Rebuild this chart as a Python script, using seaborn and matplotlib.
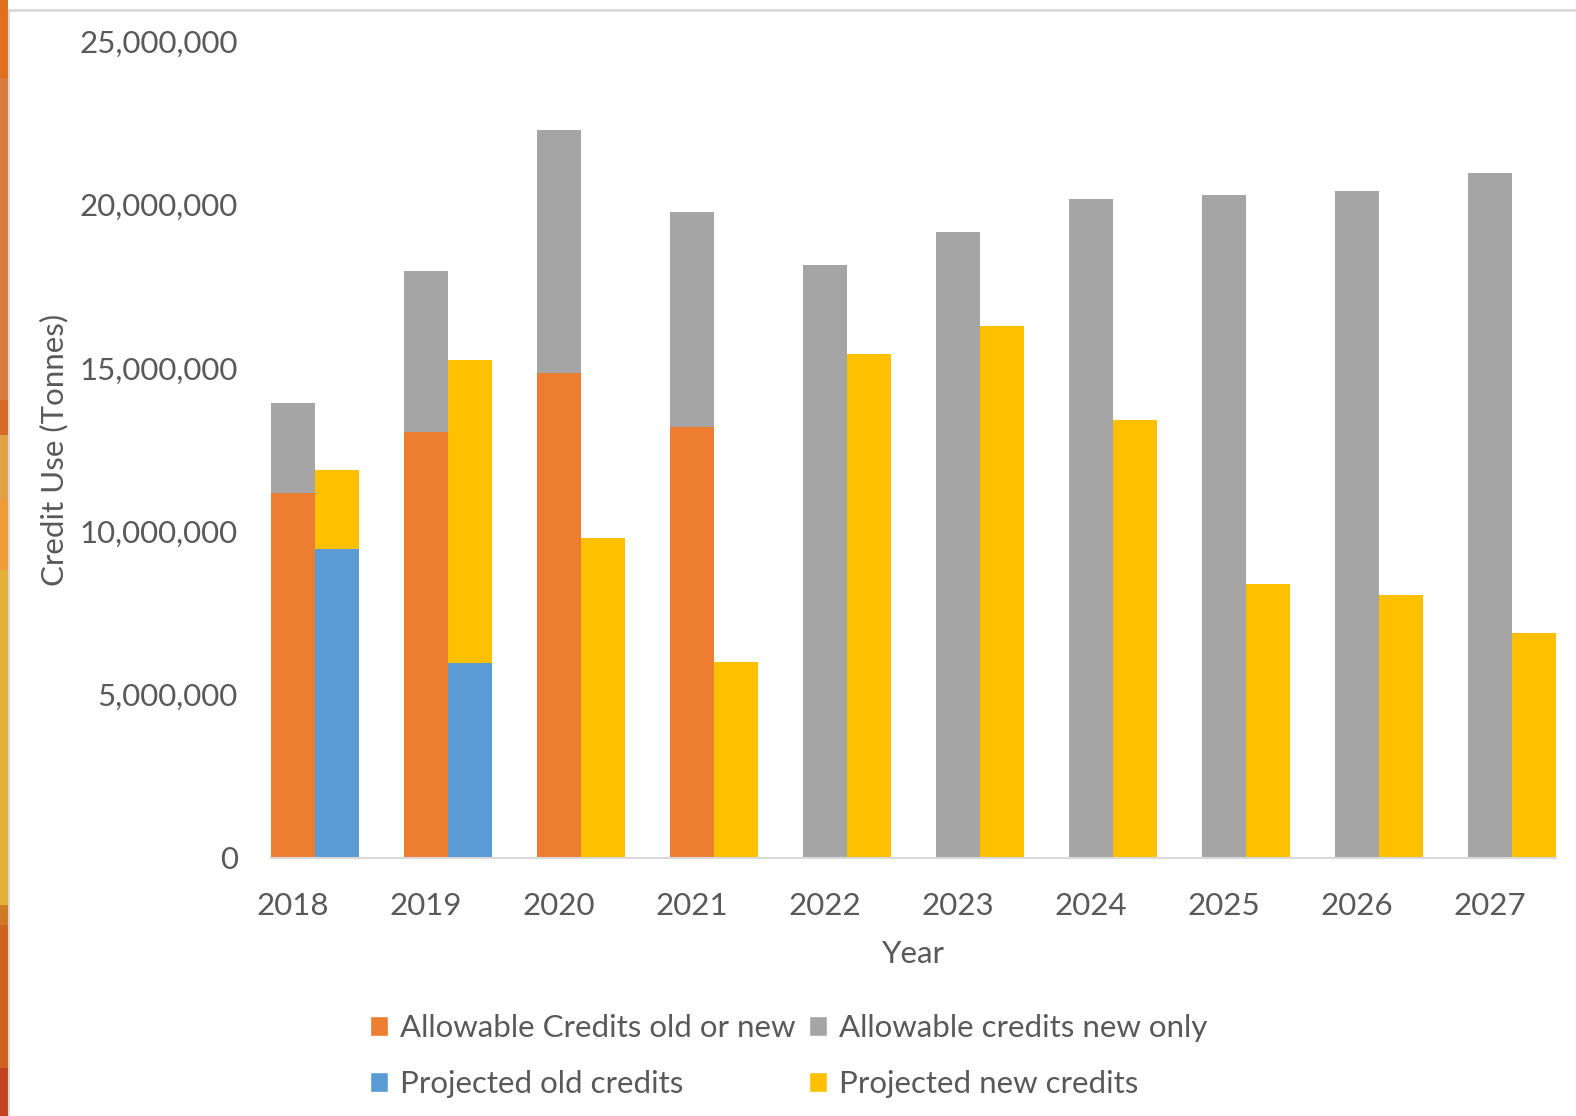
import numpy as np
import pandas as pd
import matplotlib
matplotlib.use("Agg")
import matplotlib.pyplot as plt
from matplotlib.patches import Patch
from matplotlib.lines import Line2D
from matplotlib.colors import to_rgb
from matplotlib.ticker import FuncFormatter
import seaborn as sns

# ---- data (tonnes) ----
years = ["2018", "2019", "2020", "2021", "2022", "2023", "2024", "2025", "2026", "2027"]
allowable_old_or_new = [11_160_000, 13_040_000, 14_860_000, 13_180_000, 0, 0, 0, 0, 0, 0]
allowable_new_only = [2_770_000, 4_920_000, 7_440_000, 6_590_000, 18_140_000,
                      19_160_000, 20_180_000, 20_290_000, 20_410_000, 20_980_000]
projected_old = [9_450_000, 5_970_000, 0, 0, 0, 0, 0, 0, 0, 0]
projected_new = [2_420_000, 9_270_000, 9_790_000, 5_990_000, 15_440_000,
                 16_290_000, 13_400_000, 8_370_000, 8_060_000, 6_870_000]

series_labels = ["Allowable Credits old or new", "Allowable credits new only",
                 "Projected old credits", "Projected new credits"]

ORANGE = "#ED7D31"
GRAY = "#A5A5A5"
BLUE = "#5B9BD5"
YELLOW = "#FFC000"
TEXT = "#595959"
AXIS = "#D9D9D9"

sns.set_style("white")
plt.rcParams["font.family"] = ["Lato", "DejaVu Sans"]
FS = 22.5

W, H = 1576, 1116
fig = plt.figure(figsize=(W / 100, H / 100), dpi=100)
fig.patch.set_facecolor("white")

# decorative slide edge on the left
bands = [(0, 78, "#DE7020"), (78, 400, "#D97B40"), (400, 435, "#D86A28"),
         (435, 500, "#E0A244"), (500, 570, "#F09A38"), (570, 905, "#E4B138"),
         (905, 925, "#D07A28"), (925, 1068, "#CC6420"), (1068, 1116, "#C04420")]
strip = np.zeros((H, 1, 3))
for y0, y1, c in bands:
    strip[y0:y1, 0, :] = to_rgb(c)
sax = fig.add_axes([0, 0, 7 / W, 1])
sax.imshow(strip, aspect="auto", interpolation="bilinear")
sax.axis("off")
fig.add_artist(Line2D([8.5 / W, 8.5 / W], [0, 1 - 10 / H], transform=fig.transFigure,
                      color=AXIS, lw=1.5))
fig.add_artist(Line2D([8.5 / W, 1], [1 - 10 / H, 1 - 10 / H], transform=fig.transFigure,
                      color=AXIS, lw=2))

# ---- chart ----
ax = fig.add_axes([271 / W, 1 - 857.7 / H, (1556 - 271) / W, (857.7 - 41.5) / H])

groups = ["Allowable"] * len(years) + ["Projected"] * len(years)
allow_total = [a + b for a, b in zip(allowable_old_or_new, allowable_new_only)]
proj_total = [a + b for a, b in zip(projected_old, projected_new)]

top_layer = pd.DataFrame({"Year": years * 2, "Group": groups,
                          "Tonnes": allow_total + proj_total})
base_layer = pd.DataFrame({"Year": years * 2, "Group": groups,
                           "Tonnes": allowable_old_or_new + projected_old})

common = dict(x="Year", y="Tonnes", hue="Group", dodge=True, width=0.662,
              linewidth=0, saturation=1, errorbar=None, legend=False, ax=ax)
sns.barplot(data=top_layer, palette=[GRAY, YELLOW], **common)
sns.barplot(data=base_layer, palette=[ORANGE, BLUE], **common)

ax.set_xlim(-0.331, len(years) - 1 + 0.331)
ax.set_ylim(0, 25_000_000)
ax.set_yticks(np.arange(0, 25_000_001, 5_000_000))
ax.yaxis.set_major_formatter(FuncFormatter(lambda v, p: f"{int(v):,}"))
ax.set_xticks(np.arange(len(years)) - 0.166, labels=years)

for s in ["top", "right", "left"]:
    ax.spines[s].set_visible(False)
ax.spines["bottom"].set_color(AXIS)
ax.spines["bottom"].set_linewidth(1.5)
ax.grid(False)
ax.tick_params(axis="both", length=0, labelsize=FS, labelcolor=TEXT)
ax.tick_params(axis="y", pad=24)
ax.tick_params(axis="x", pad=25)

ax.set_xlabel("Year", fontsize=FS, color=TEXT, labelpad=14)
ax.set_ylabel("Credit Use (Tonnes)", fontsize=FS, color=TEXT, labelpad=8)

handles = [Patch(facecolor=ORANGE, label=series_labels[0]),
           Patch(facecolor=BLUE, label=series_labels[2]),
           Patch(facecolor=GRAY, label=series_labels[1]),
           Patch(facecolor=YELLOW, label=series_labels[3])]
fig.legend(handles=handles, ncol=2, loc="upper left",
           bbox_to_anchor=(370 / W, 1 - 1014 / H), frameon=False, fontsize=FS,
           handlelength=0.58, handleheight=0.58, handletextpad=0.38,
           columnspacing=0.42, labelspacing=0.9, borderpad=0, borderaxespad=0,
           labelcolor=TEXT)

fig.savefig("out.png", dpi=100, facecolor="white")
